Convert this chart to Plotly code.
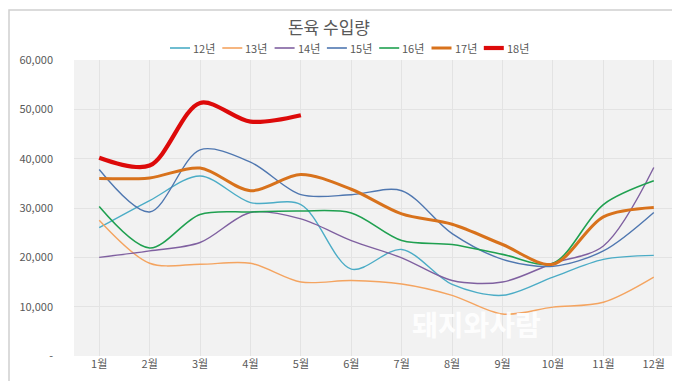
import plotly.graph_objects as go

months = ["1월", "2월", "3월", "4월", "5월", "6월", "7월", "8월", "9월", "10월", "11월", "12월"]

y12 = [26000, 31500, 36500, 31100, 30700, 17600, 21600, 14500, 12300, 16000, 19600, 20400]
y13 = [27500, 18800, 18600, 18800, 15000, 15300, 14600, 12300, 8500, 9900, 10900, 16000]
y14 = [20000, 21300, 23000, 29100, 27800, 23400, 19900, 15300, 15000, 18800, 22300, 38200]
y15 = [37800, 29200, 41800, 39300, 32700, 32700, 33500, 24800, 19600, 18200, 21300, 29100]
y16 = [30300, 21900, 28700, 29200, 29400, 29000, 23400, 22600, 20600, 18800, 30700, 35500]
y17 = [36000, 36100, 38100, 33500, 36800, 33800, 28800, 26700, 22600, 18600, 28200, 30100]
y18 = [40200, 38600, 51300, 47500, 48800]

series = [
    ("12년", y12, "#4bacc6", 1.4),
    ("13년", y13, "#f4a460", 1.4),
    ("14년", y14, "#7f60a0", 1.4),
    ("15년", y15, "#4f77b0", 1.4),
    ("16년", y16, "#1fa050", 1.6),
    ("17년", y17, "#d8721c", 3.0),
    ("18년", y18, "#dd0a0a", 4.2),
]

ytick_vals = [0, 10000, 20000, 30000, 40000, 50000, 60000]
ytick_text = ["-", "10,000", "20,000", "30,000", "40,000", "50,000", "60,000"]

FONT = "Noto Sans CJK KR"
W, H = 680, 381
L, R, T, B = 66, 9, 52, 33
PW, PH = W - L - R, H - T - B

def px(x):
    return (x - L) / PW

def py(y):
    return (H - B - y) / PH

fig = go.Figure()
for name, vals, color, w in series:
    fig.add_trace(go.Scatter(
        x=months[:len(vals)], y=vals, name=name, mode="lines",
        line=dict(color=color, width=w, shape="spline", smoothing=0.9),
        showlegend=False,
    ))

# legend drawn as line samples + labels
leg_x0 = 162
leg_step = 52.3
for i, (name, vals, color, w) in enumerate(series):
    x0 = leg_x0 + i * leg_step
    fig.add_shape(type="line", xref="paper", yref="paper",
                  x0=px(x0), x1=px(x0 + 20), y0=py(40), y1=py(40),
                  line=dict(color=color, width=max(w, 1.6)))
    fig.add_annotation(text=name, xref="paper", yref="paper",
                       x=px(x0 + 21), y=py(40), xanchor="left", yanchor="middle",
                       showarrow=False,
                       font=dict(family=FONT, size=11, color="#595959"))

fig.update_layout(
    width=W, height=H,
    paper_bgcolor="white",
    plot_bgcolor="#f2f2f2",
    margin=dict(l=L, r=R, t=T, b=B, autoexpand=False),
    font=dict(family=FONT, color="#595959", size=11),
    title=dict(text="돈육 수입량", font=dict(family=FONT, size=17, color="#595959"),
               xref="container", x=321 / W, xanchor="center",
               yref="container", y=1 - 20 / H, yanchor="middle"),
    showlegend=False,
)
fig.update_xaxes(
    type="category", categoryorder="array", categoryarray=months,
    range=[-0.5, 11.5], showgrid=True, gridcolor="#e3e3e3", gridwidth=1,
    zeroline=False, showline=False, ticks="", ticklabelstandoff=0,
    tickfont=dict(size=11, color="#595959"),
)
fig.update_yaxes(
    range=[0, 60000], tickvals=ytick_vals, ticktext=ytick_text,
    showgrid=True, gridcolor="#e3e3e3", gridwidth=1, zeroline=False,
    showline=False, ticks="", ticklabelstandoff=20,
    tickfont=dict(size=11, color="#595959"),
)

# chart border
fig.add_shape(type="rect", xref="paper", yref="paper", x0=px(1), x1=px(676),
              y0=py(379.5), y1=py(2), line=dict(color="#d0d0d0", width=1.5),
              fillcolor="rgba(0,0,0,0)", layer="below")

# watermark
fig.add_annotation(text="<b>돼지와사람</b>", xref="paper", yref="paper",
                   x=px(535), y=py(338), showarrow=False,
                   font=dict(family=FONT, size=28, color="rgba(255,255,255,0.92)"))

fig.write_html("out.html")
